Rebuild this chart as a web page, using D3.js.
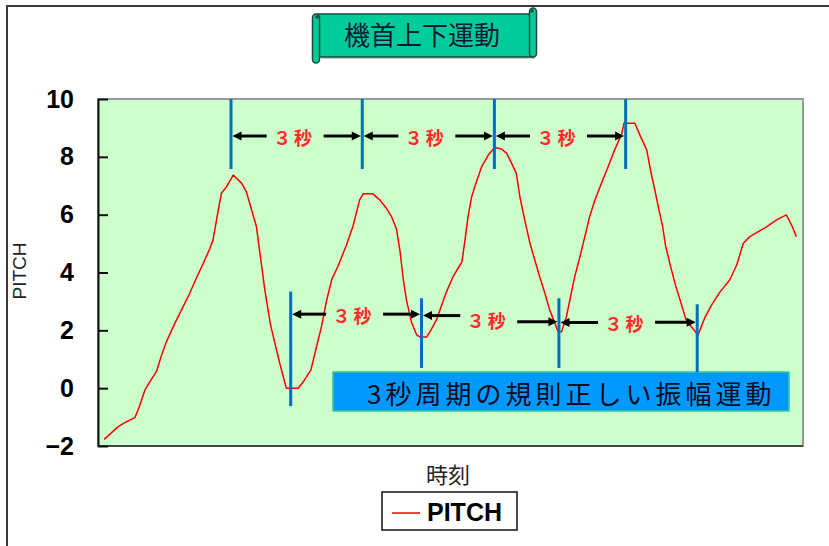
<!DOCTYPE html>
<html>
<head>
<meta charset="utf-8">
<script src="https://cdn.jsdelivr.net/npm/d3@7"></script>
<style>
    body { margin: 0; background: #fff; }
    svg { display: block; }
</style>
</head>
<body>
<div id="chart"></div>
<script>
'use strict';

// PITCH series, time in seconds from the first sample
const pitchTime = [
    0.00, 0.32, 0.51, 0.70, 0.80, 0.93, 1.04, 1.19, 1.31, 1.42, 1.61, 1.76, 1.95, 2.10, 2.26, 2.41,
    2.48, 2.56, 2.67, 2.79, 2.94, 3.13, 3.24, 3.36, 3.47, 3.55, 3.66, 3.79, 4.00, 4.15, 4.42, 4.55,
    4.71, 4.82, 4.95, 5.07, 5.19, 5.32, 5.52, 5.67, 5.82, 5.90, 6.12, 6.28, 6.43, 6.55, 6.66, 6.74,
    6.81, 6.89, 7.00, 7.12, 7.19, 7.35, 7.46, 7.57, 7.69, 7.80, 7.95, 8.08, 8.15, 8.22, 8.29, 8.37,
    8.48, 8.60, 8.75, 8.90, 9.05, 9.17, 9.28, 9.39, 9.47, 9.58, 9.70, 9.81, 9.92, 10.04, 10.15, 10.27,
    10.34, 10.42, 10.53, 10.61, 10.72, 10.84, 10.95, 11.06, 11.18, 11.33, 11.48, 11.63, 11.79, 11.84, 12.09, 12.22,
    12.36, 12.45, 12.56, 12.64, 12.72, 12.79, 12.90, 13.02, 13.14, 13.25, 13.34, 13.53, 13.68, 13.84, 14.03, 14.25,
    14.41, 14.56, 14.71, 14.90, 15.09, 15.32, 15.54, 15.66, 15.77
];
const pitchValue = [
    -1.77, -1.33, -1.16, -1.02, -0.64, -0.06, 0.22, 0.57, 1.15, 1.61, 2.24, 2.70, 3.28, 3.80, 4.32, 4.84,
    5.12, 5.82, 6.74, 6.97, 7.37, 7.09, 6.79, 6.16, 5.58, 4.66, 3.40, 2.19, 0.86, 0.00, 0.00, 0.25,
    0.63, 1.32, 2.12, 3.05, 3.78, 4.19, 4.95, 5.61, 6.51, 6.72, 6.72, 6.51, 6.22, 5.92, 5.50, 4.74,
    3.81, 3.02, 2.29, 1.84, 1.77, 1.77, 2.05, 2.36, 2.88, 3.34, 3.86, 4.19, 4.36, 5.12, 5.93, 6.61,
    7.14, 7.66, 8.06, 8.32, 8.27, 8.12, 7.78, 7.43, 6.62, 5.82, 5.01, 4.43, 3.86, 3.28, 2.70, 2.24,
    1.95, 1.95, 2.47, 3.05, 3.86, 4.55, 5.24, 5.93, 6.51, 7.09, 7.66, 8.24, 8.79, 9.16, 9.16, 8.70,
    8.24, 7.51, 6.74, 6.16, 5.61, 4.92, 4.23, 3.53, 2.95, 2.39, 2.19, 1.84, 2.43, 2.88, 3.33, 3.74,
    4.26, 5.01, 5.24, 5.41, 5.58, 5.82, 5.99, 5.64, 5.24
];

const yTicks = [-2, 0, 2, 4, 6, 8, 10];

// period markers (seconds) and their vertical extents (pitch units)
const peakTimes = [2.89, 5.88, 8.89, 11.88];
const peakMarkTop = [10, 10, 10, 10];
const peakMarkBottom = [7.58, 7.58, 7.58, 7.58];
const troughTimes = [4.25, 7.23, 10.36, 13.51];
const troughMarkTop = [3.34, 3.11, 3.11, 2.90];
const troughMarkBottom = [-0.62, 0.70, 0.70, 0.55];

// arrow levels for each 3 second span (left arrow, right arrow)
const peakArrowLeft = [8.72, 8.72, 8.72];
const peakArrowRight = [8.72, 8.72, 8.72];
const troughArrowLeft = [2.56, 2.51, 2.27];
const troughArrowRight = [2.56, 2.30, 2.28];

const periodLabel = '３秒';
const titleText = '機首上下運動';
const noteText = '3秒周期の規則正しい振幅運動';
const xTitle = '時刻';
const yTitle = 'PITCH';
const seriesName = 'PITCH';

const cjkFont = '"Noto Sans CJK JP", "Noto Sans", sans-serif';
const latinFont = '"Liberation Sans", Arial, sans-serif';

function main() {
    const width = 829, height = 546;
    const plot = { left: 98, right: 803, top: 99, bottom: 446 };

    const svg = d3.select('#chart')
        .append('svg')
        .attr('width', width)
        .attr('height', height);

    svg.append('rect')
        .attr('width', width)
        .attr('height', height)
        .attr('fill', '#fff');

    // outer chart frame (only top and left edges are inside the picture)
    svg.append('path')
        .attr('d', `M7,${height} L7,6 L${width},6`)
        .attr('fill', 'none')
        .attr('stroke', '#3a3a3a')
        .attr('stroke-width', 2);

    const x = d3.scaleLinear().domain([-0.14, 15.92]).range([plot.left, plot.right]);
    const y = d3.scaleLinear().domain([-2, 10]).range([plot.bottom, plot.top]);

    // plot area
    svg.append('rect')
        .attr('x', plot.left)
        .attr('y', plot.top)
        .attr('width', plot.right - plot.left)
        .attr('height', plot.bottom - plot.top)
        .attr('fill', '#ccffcc')
        .attr('stroke', '#999')
        .attr('stroke-width', 2);

    svg.append('line')
        .attr('x1', plot.left).attr('x2', plot.right)
        .attr('y1', plot.bottom).attr('y2', plot.bottom)
        .attr('stroke', '#444')
        .attr('stroke-width', 2);

    // y axis, ticks pointing into the plot
    const yAxis = svg.append('g')
        .attr('transform', `translate(${plot.left},0)`)
        .call(d3.axisLeft(y).tickValues(yTicks).tickSize(-10).tickSizeOuter(0).tickPadding(24));
    yAxis.select('.domain').attr('stroke', '#111').attr('stroke-width', 2);
    yAxis.selectAll('.tick line').attr('stroke', '#111').attr('stroke-width', 2);
    yAxis.selectAll('.tick text')
        .attr('font-family', latinFont)
        .attr('font-weight', 'bold')
        .attr('font-size', 25)
        .attr('fill', '#000');

    // the series
    const points = pitchTime.map((t, i) => [t, pitchValue[i]]);
    const line = d3.line()
        .x(d => x(d[0]))
        .y(d => y(d[1]));

    svg.append('path')
        .datum(points)
        .attr('d', line)
        .attr('fill', 'none')
        .attr('stroke', '#ff0000')
        .attr('stroke-width', 1.5)
        .attr('stroke-linejoin', 'round');

    // note box
    svg.append('rect')
        .attr('x', 333).attr('y', 372)
        .attr('width', 456).attr('height', 39)
        .attr('fill', '#0099ff')
        .attr('stroke', '#33cc99')
        .attr('stroke-width', 1.5);
    svg.append('text')
        .attr('x', 367).attr('y', 392)
        .attr('dominant-baseline', 'central')
        .attr('font-family', cjkFont)
        .attr('font-size', 26)
        .attr('letter-spacing', 4)
        .attr('fill', '#0a0a20')
        .text(noteText);

    // period markers and arrows
    const ann = svg.append('g').classed('annotations', true);
    drawMarkers(ann, x, y, peakTimes, peakMarkTop, peakMarkBottom);
    drawMarkers(ann, x, y, troughTimes, troughMarkTop, troughMarkBottom);
    drawSpans(ann, x, y, peakTimes, peakArrowLeft, peakArrowRight);
    drawSpans(ann, x, y, troughTimes, troughArrowLeft, troughArrowRight);

    // axis titles
    svg.append('text')
        .attr('transform', 'translate(19,271) rotate(-90)')
        .attr('text-anchor', 'middle')
        .attr('dominant-baseline', 'central')
        .attr('font-family', latinFont)
        .attr('font-size', 19)
        .attr('fill', '#222')
        .text(yTitle);

    svg.append('text')
        .attr('x', 448).attr('y', 473)
        .attr('text-anchor', 'middle')
        .attr('dominant-baseline', 'central')
        .attr('font-family', cjkFont)
        .attr('font-size', 22)
        .attr('fill', '#222')
        .text(xTitle);

    // legend
    const legend = svg.append('g');
    legend.append('rect')
        .attr('x', 382).attr('y', 492)
        .attr('width', 135).attr('height', 38)
        .attr('fill', '#fff')
        .attr('stroke', '#111')
        .attr('stroke-width', 1.5);
    legend.append('line')
        .attr('x1', 392).attr('x2', 420)
        .attr('y1', 513).attr('y2', 513)
        .attr('stroke', '#ff0000')
        .attr('stroke-width', 1.5);
    legend.append('text')
        .attr('x', 427).attr('y', 521)
        .attr('font-family', latinFont)
        .attr('font-weight', 'bold')
        .attr('font-size', 25)
        .attr('fill', '#000')
        .text(seriesName);

    drawTitleScroll(svg);
} 

/*** Vertical blue lines at each marked time ***/
function drawMarkers(g, x, y, times, tops, bottoms) {
    g.selectAll(null)
        .data(times)
        .enter()
        .append('line')
        .attr('x1', d => x(d)).attr('x2', d => x(d))
        .attr('y1', (d, i) => y(tops[i]))
        .attr('y2', (d, i) => y(bottoms[i]))
        .attr('stroke', '#0070c0')
        .attr('stroke-width', 3);
}

/*** Double arrows with a "３秒" label between consecutive markers ***/
function drawSpans(g, x, y, times, leftLevels, rightLevels) {
    const halfText = 19;
    for (let i = 0; i < times.length - 1; i++) {
        const xa = x(times[i]), xb = x(times[i + 1]);
        const yl = y(leftLevels[i]), yr = y(rightLevels[i]);
        const cx = (xa + xb) / 2 - 4;
        drawArrow(g, cx - halfText - 7, yl, xa + 1.5, yl);
        drawArrow(g, cx + halfText + 12, yr, xb - 1.5, yr);
        g.append('text')
            .attr('x', cx + 1.5)
            .attr('y', (yl + yr) / 2 + 1)
            .attr('text-anchor', 'middle')
            .attr('dominant-baseline', 'central')
            .attr('font-family', cjkFont)
            .attr('font-weight', 'bold')
            .attr('font-size', 18)
            .attr('letter-spacing', 3)
            .attr('fill', '#ff2a2a')
            .text(periodLabel);
    }
}

function drawArrow(g, x1, y1, x2, y2) {
    const len = 9, half = 4.5;
    const dir = Math.sign(x2 - x1);
    g.append('line')
        .attr('x1', x1).attr('y1', y1)
        .attr('x2', x2 - dir * (len - 1)).attr('y2', y2)
        .attr('stroke', '#000')
        .attr('stroke-width', 3);
    g.append('path')
        .attr('d', `M${x2},${y2} L${x2 - dir * len},${y2 - half} L${x2 - dir * len},${y2 + half} Z`)
        .attr('fill', '#000');
}

/*** Horizontal scroll shape holding the chart title ***/
function drawTitleScroll(svg) {
    const g = svg.append('g');
    const fill = '#00cc99', edge = '#1c4a3c';

    // shadow
    g.append('rect')
        .attr('x', 321).attr('y', 17)
        .attr('width', 214).attr('height', 42)
        .attr('fill', '#9aa8a2').attr('opacity', 0.5);

    // body
    g.append('rect')
        .attr('x', 318).attr('y', 14)
        .attr('width', 214).attr('height', 43)
        .attr('fill', fill)
        .attr('stroke', edge)
        .attr('stroke-width', 1.5);

    // right roll, sticking up
    g.append('rect')
        .attr('x', 529.5).attr('y', 8)
        .attr('width', 7).attr('height', 49)
        .attr('rx', 3.5)
        .attr('fill', fill)
        .attr('stroke', edge)
        .attr('stroke-width', 1.5);
    g.append('circle')
        .attr('cx', 532).attr('cy', 11).attr('r', 1.8)
        .attr('fill', edge);

    // left roll, hanging down
    g.append('rect')
        .attr('x', 312.5).attr('y', 14)
        .attr('width', 7).attr('height', 49)
        .attr('rx', 3.5)
        .attr('fill', fill)
        .attr('stroke', edge)
        .attr('stroke-width', 1.5);
    g.append('circle')
        .attr('cx', 317).attr('cy', 17).attr('r', 1.8)
        .attr('fill', edge);

    g.append('text')
        .attr('x', 422).attr('y', 33)
        .attr('text-anchor', 'middle')
        .attr('dominant-baseline', 'central')
        .attr('font-family', cjkFont)
        .attr('font-size', 26)
        .attr('fill', '#0c1a3a')
        .text(titleText);
}

main();
</script>
</body>
</html>
